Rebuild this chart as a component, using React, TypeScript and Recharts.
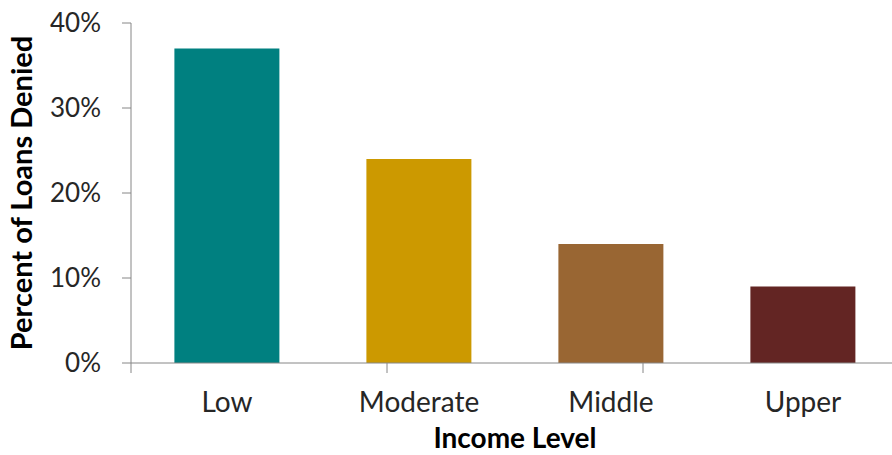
import React from 'react';
import { BarChart, Bar, XAxis, YAxis, Cell } from 'recharts';

const incomeLevels = ['Low', 'Moderate', 'Middle', 'Upper'];
const deniedPercent = [37, 24, 14, 9];
const barColors = ['#008080', '#CC9900', '#996633', '#632523'];
const yTicks = [0, 10, 20, 30, 40];
const boundaryTicks = [0, 1, 2, 3, 4];

const data = incomeLevels.map((name, i) => ({ name, denied: deniedPercent[i] }));

const FONT = 'Lato, "Open Sans", sans-serif';
const AXIS_GREY = '#868686';

const App: React.FC = () => {
  return (
    <div style={{ position: 'absolute', left: 0, top: 0, width: 892, height: 455, overflow: 'hidden', background: '#fff' }}>
      <BarChart
        width={900}
        height={455}
        data={data}
        margin={{ top: 23, right: 1, bottom: 0, left: 0 }}
        barCategoryGap="22.6%"
      >
        <XAxis
          xAxisId="bounds"
          type="number"
          domain={[0, 4]}
          ticks={boundaryTicks}
          tickFormatter={() => ''}
          tickSize={10}
          height={1}
          axisLine={{ stroke: AXIS_GREY }}
          tickLine={{ stroke: AXIS_GREY }}
          allowDataOverflow
        />
        <XAxis
          xAxisId="cat"
          dataKey="name"
          height={91}
          axisLine={false}
          tickLine={false}
          tickSize={0}
          tickMargin={28}
          tick={{ fill: '#262626', fontFamily: FONT, fontSize: 28 }}
          label={{
            value: 'Income Level',
            position: 'insideBottom',
            offset: 7,
            style: { fill: '#000', fontFamily: FONT, fontSize: 28, fontWeight: 700 },
          }}
        />
        <YAxis
          width={131}
          domain={[0, 40]}
          ticks={yTicks}
          tickFormatter={(v: number) => `${v}%`}
          tickSize={9}
          tickMargin={21}
          axisLine={{ stroke: AXIS_GREY }}
          tickLine={{ stroke: AXIS_GREY }}
          tick={{ fill: '#262626', fontFamily: FONT, fontSize: 26 }}
          label={{
            value: 'Percent of Loans Denied',
            angle: -90,
            position: 'insideLeft',
            offset: 22,
            style: { fill: '#000', fontFamily: FONT, fontSize: 29, fontWeight: 700, textAnchor: 'middle' },
          }}
        />
        <Bar xAxisId="cat" dataKey="denied" isAnimationActive={false}>
          {data.map((d, i) => (
            <Cell key={d.name} fill={barColors[i]} />
          ))}
        </Bar>
      </BarChart>
    </div>
  );
};

export default App;
